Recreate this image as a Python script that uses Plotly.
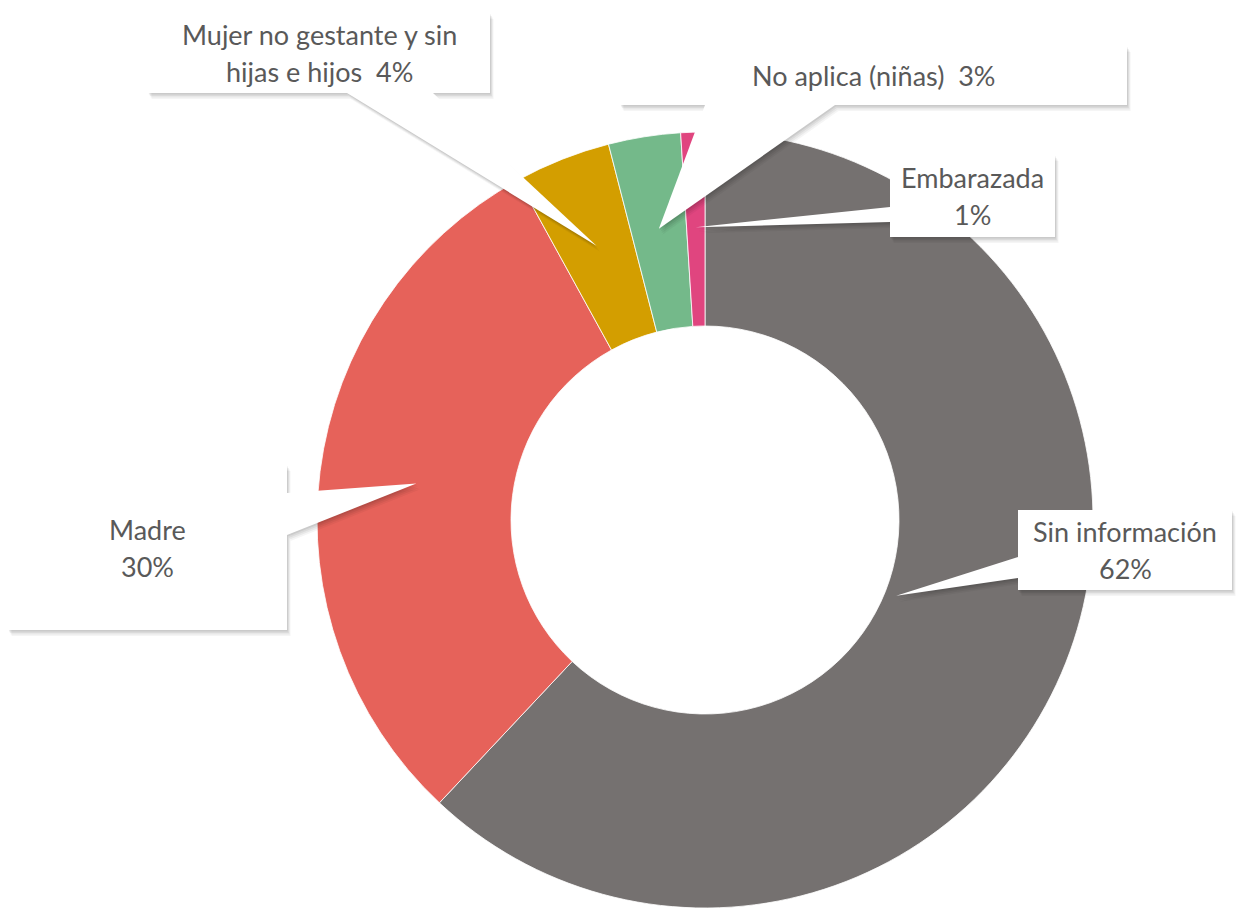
import math
import plotly.graph_objects as go

# ---- data ----
labels = ["Sin información", "Madre", "Mujer no gestante y sin hijas e hijos",
          "No aplica (niñas)", "Embarazada"]
values = [62, 30, 4, 3, 1]
colors = ["#757170", "#E6625A", "#D39E00", "#74B98A", "#E0457F"]
label_lines = [["Sin información", "62%"], ["Madre", "30%"],
               ["Mujer no gestante y sin", "hijas e hijos  4%"],
               ["No aplica (niñas)  3%"], ["Embarazada", "1%"]]

W, H = 1251, 909
CX, CY, R = 705, 520, 388
HOLE = 0.5
LINE_GAP = 37


def px(x, y):
    return x / W, 1 - y / H


fig = go.Figure()
x0, y0 = px(CX - R, CY + R)
x1, y1 = px(CX + R, CY - R)
fig.add_trace(go.Pie(
    labels=labels, values=values, sort=False, direction="clockwise", rotation=0,
    hole=HOLE, textinfo="none", hoverinfo="label+percent",
    marker=dict(colors=colors, line=dict(color="white", width=0.8)),
    domain=dict(x=[x0, x1], y=[y0, y1]), showlegend=False,
))

# mid angle of each slice (degrees clockwise from 12 o'clock)
total = sum(values)
mids = []
acc = 0
for v in values:
    mids.append((acc + v / 2) / total * 360)
    acc += v

# callout layout (pixels): box, wedge base points, tip radius fraction
callouts = [
    dict(box=(1018, 510, 1232, 590), base=[(1018, 557), (1018, 578)], rf=0.53),
    dict(box=(8, 465, 287, 630), base=[(287, 493), (287, 535)], rf=0.75),
    dict(box=(148, 13, 490, 93), base=[(347, 93), (433, 93)], rf=0.76),
    dict(box=(620, 46, 1127, 105), base=[(705, 105), (835, 105)], rf=0.76),
    dict(box=(890, 155, 1055, 237), base=[(890, 207), (890, 222)], rf=0.755),
]


def path(points):
    s = ""
    for i, (x, y) in enumerate(points):
        X, Y = px(x, y)
        s += ("M" if i == 0 else "L") + f"{X:.5f},{Y:.5f} "
    return s + "Z"


shadow_layers = [(6, 0.04), (4.5, 0.05), (3, 0.06), (1.5, 0.07)]
for i, c in enumerate(callouts):
    ang = math.radians(mids[i])
    r = c["rf"] * R
    c["tip"] = (CX + r * math.sin(ang), CY - r * math.cos(ang))

for off, op in shadow_layers:
    for c in callouts:
        bx0, by0, bx1, by1 = c["box"]
        box_pts = [(bx0, by0), (bx1, by0), (bx1, by1), (bx0, by1)]
        wedge_pts = [c["base"][0], c["tip"], c["base"][1]]
        for pts in (box_pts, wedge_pts):
            fig.add_shape(type="path", xref="paper", yref="paper",
                          path=path([(x + off * 0.6, y + off) for x, y in pts]),
                          fillcolor=f"rgba(0,0,0,{op})", line=dict(width=0),
                          layer="above")

for c in callouts:
    bx0, by0, bx1, by1 = c["box"]
    fig.add_shape(type="path", xref="paper", yref="paper",
                  path=path([c["base"][0], c["tip"], c["base"][1]]),
                  fillcolor="white", line=dict(width=0), layer="above")
    fig.add_shape(type="path", xref="paper", yref="paper",
                  path=path([(bx0, by0), (bx1, by0), (bx1, by1), (bx0, by1)]),
                  fillcolor="white", line=dict(width=0), layer="above")

for i, c in enumerate(callouts):
    bx0, by0, bx1, by1 = c["box"]
    cx, cy = (bx0 + bx1) / 2, (by0 + by1) / 2
    lines = label_lines[i]
    n = len(lines)
    for k, t in enumerate(lines):
        ly = cy + (k - (n - 1) / 2) * LINE_GAP
        X, Y = px(cx, ly)
        fig.add_annotation(x=X, y=Y, xref="paper", yref="paper", text=t,
                           showarrow=False, xanchor="center", yanchor="middle",
                           font=dict(family="Lato, Open Sans, sans-serif", size=27,
                                     color="#595959"))

fig.update_layout(width=W, height=H, margin=dict(l=0, r=0, t=0, b=0),
                  paper_bgcolor="white", plot_bgcolor="white")
fig.write_html("out.html", config={"displayModeBar": False},
               post_script="document.body.style.margin='0';document.body.style.padding='0';")
